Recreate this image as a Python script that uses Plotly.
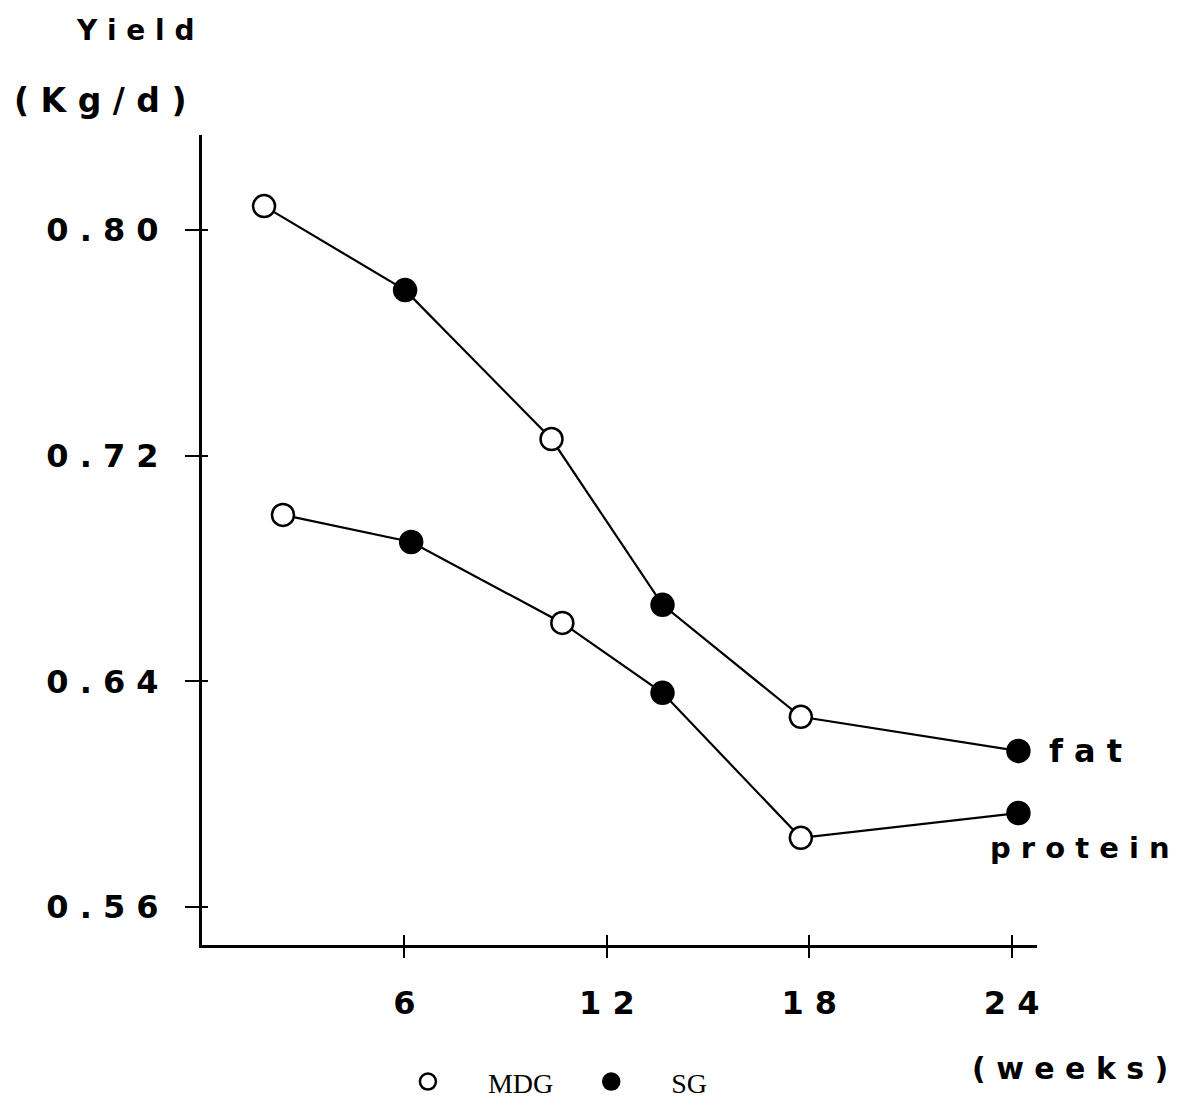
import plotly.graph_objects as go

# ---- data ----
fat_weeks = [1.84, 6.02, 10.36, 13.65, 17.75, 24.2]
fat_yield = [0.8085, 0.7787, 0.7259, 0.6671, 0.6274, 0.6153]
protein_weeks = [2.40, 6.20, 10.68, 13.65, 17.75, 24.2]
protein_yield = [0.6990, 0.6894, 0.6607, 0.6359, 0.5845, 0.5933]
groups = ["MDG", "SG", "MDG", "SG", "MDG", "SG"]

x_tickvals = [6, 12, 18, 24]
x_ticktext = ["6", "1 2", "1 8", "2 4"]
y_tickvals = [0.56, 0.64, 0.72, 0.80]
y_ticktext = ["0 . 5 6", "0 . 6 4", "0 . 7 2", "0 . 8 0"]

X_RANGE = [0, 24.75]
Y_RANGE = [0.5465, 0.8337]

BOLD = "DejaVu Sans"
NB = "\u00a0"
fig = go.Figure()

for xs, ys in [(fat_weeks, fat_yield), (protein_weeks, protein_yield)]:
    fig.add_trace(go.Scatter(x=xs, y=ys, mode="lines",
                             line=dict(color="black", width=2.2),
                             showlegend=False, hoverinfo="skip"))

group_style = {"MDG": "white", "SG": "black"}
for g, fill in group_style.items():
    gx, gy = [], []
    for xs, ys in [(fat_weeks, fat_yield), (protein_weeks, protein_yield)]:
        for x, y, gg in zip(xs, ys, groups):
            if gg == g:
                gx.append(x)
                gy.append(y)
    fig.add_trace(go.Scatter(x=gx, y=gy, mode="markers", name=NB * 5 + g + NB * 4,
                             marker=dict(symbol="circle", size=22, color=fill,
                                         line=dict(color="black", width=2.5))))

# invisible trace on overlay axes so the inner tick halves are drawn
fig.add_trace(go.Scatter(x=[X_RANGE[0]], y=[Y_RANGE[0]], xaxis="x2", yaxis="y2",
                         mode="markers", marker=dict(opacity=0), showlegend=False,
                         hoverinfo="skip"))

fig.update_layout(
    width=1200, height=1105,
    margin=dict(l=202, r=163, t=135, b=160, autoexpand=False),
    paper_bgcolor="white", plot_bgcolor="white",
    showlegend=True,
    legend=dict(orientation="h", x=0.443, xanchor="center", y=-0.169, yanchor="middle",
                font=dict(family="Liberation Serif", size=28, color="black"),
                itemsizing="trace", itemwidth=40),
    xaxis=dict(range=X_RANGE, tickvals=x_tickvals, ticktext=x_ticktext,
               showgrid=False, zeroline=False, showline=True, linecolor="black",
               linewidth=3, ticks="outside", ticklen=10, tickwidth=2, tickcolor="black",
               ticklabelstandoff=18,
               tickfont=dict(family=BOLD, size=32, color="black", weight="bold")),
    yaxis=dict(range=Y_RANGE, tickvals=y_tickvals, ticktext=y_ticktext,
               showgrid=False, zeroline=False, showline=True, linecolor="black",
               linewidth=3, ticks="outside", ticklen=14, tickwidth=2, tickcolor="black",
               ticklabelstandoff=20,
               tickfont=dict(family=BOLD, size=32, color="black", weight="bold")),
    xaxis2=dict(range=X_RANGE, overlaying="x", anchor="y2", side="bottom",
                tickvals=x_tickvals, showticklabels=False, showgrid=False,
                zeroline=False, showline=False, ticks="inside", ticklen=10,
                tickwidth=2, tickcolor="black"),
    yaxis2=dict(range=Y_RANGE, overlaying="y", anchor="x2", side="left",
                tickvals=y_tickvals, showticklabels=False, showgrid=False,
                zeroline=False, showline=False, ticks="inside", ticklen=6,
                tickwidth=2, tickcolor="black"),
)

def ann(text, x, y, size, xanchor="center", yref="paper"):
    fig.add_annotation(text=text, xref="paper", yref=yref, x=x, y=y,
                       xanchor=xanchor, yanchor="middle", showarrow=False,
                       font=dict(family=BOLD, size=size, color="black", weight="bold"))

ann("Y i e l d", -0.080, 1.1296, 28)
ann("( K g / d )", -0.122, 1.043, 33)
ann("( w e e k s )", 1.0395, -0.152, 30)
ann("f a t", 1.012, fat_yield[-1], 32, xanchor="left", yref="y")
ann("p r o t e i n", 0.941, 0.581, 29, xanchor="left", yref="y")

fig.write_html("out.html")
